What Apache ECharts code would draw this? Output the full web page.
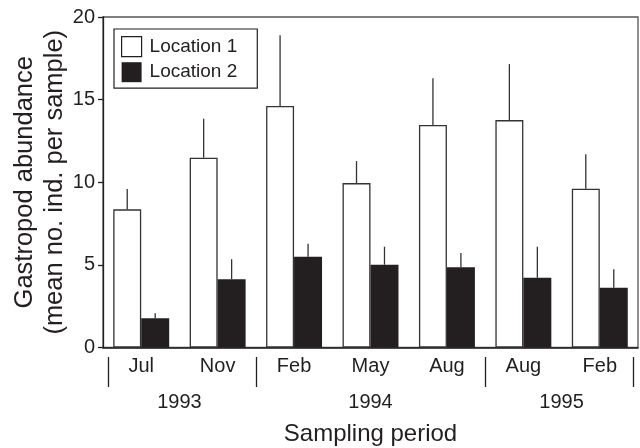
<!DOCTYPE html>
<html>
<head>
<meta charset="utf-8">
<script src="https://cdn.jsdelivr.net/npm/echarts@6/dist/echarts.min.js"></script>
<style>html,body{margin:0;padding:0;background:#fff}#c{width:640px;height:448px}</style>
</head>
<body>
<div id="c"></div>
<script>
// ---- data ----
const months = ['Jul', 'Nov', 'Feb', 'May', 'Aug', 'Aug', 'Feb'];
const years = ['1993', '1994', '1995'];
const yearSpans = [2, 3, 2]; // number of sampling dates in each year
const loc1Mean = [8.36, 11.48, 14.61, 9.95, 13.46, 13.76, 9.61];
const loc1SE   = [1.23, 2.36, 4.29, 1.33, 2.83, 3.39, 2.08];
const loc2Mean = [1.77, 4.13, 5.49, 5.01, 4.85, 4.22, 3.62];
const loc2SE   = [0.30, 1.21, 0.79, 1.09, 0.87, 1.88, 1.11];
const yTicks = [0, 5, 10, 15, 20];

// ---- derived year label positions / separators ----
const yearCenters = [], yearBounds = [0];
let acc = 0;
yearSpans.forEach(s => { yearCenters.push(acc + s / 2); acc += s; yearBounds.push(acc); });
const inset = 0.065;
const sepTicks = yearBounds.map((b, i) => i === 0 ? b + inset : (i === yearBounds.length - 1 ? b - inset : b));

const ink = '#231f20';
const FONT = 'Liberation Sans, Arial, Helvetica, sans-serif';
const BAR_FRAC = 0.366;

function errSeries(name, mean, se, sign) {
  return {
    type: 'custom', name: name + ' err', xAxisIndex: 0, yAxisIndex: 0, z: 1,
    silent: true,
    renderItem: function (params, api) {
      const c = api.coord([api.value(0), api.value(1)]);
      const t = api.coord([api.value(0), api.value(2)]);
      const bw = api.size([1, 0])[0];
      const dx = sign * bw * BAR_FRAC / 2;
      return { type: 'line', shape: { x1: c[0] + dx, y1: c[1], x2: c[0] + dx, y2: t[1] },
               style: { stroke: '#333', lineWidth: 1.3 } };
    },
    data: mean.map((m, i) => [i, m, m + se[i]])
  };
}

const chart = echarts.init(document.getElementById('c'), null, { renderer: 'canvas' });
chart.setOption({
  animation: false,
  textStyle: { fontFamily: FONT, color: ink },
  grid: { left: 103, right: 2, top: 17, bottom: 100.5, containLabel: false, outerBoundsMode: 'none',
          show: true, borderColor: '#555', borderWidth: 1.3 },
  legend: {
    orient: 'vertical', left: 114, top: 29,
    padding: [7, 20, 6, 7], itemGap: 5, itemWidth: 20, itemHeight: 20,
    borderColor: ink, borderWidth: 1.2,
    textStyle: { fontSize: 19, color: ink, fontFamily: FONT, padding: [0, 0, 0, 3] },
    data: [
      { name: 'Location 1', icon: 'rect', itemStyle: { color: '#fff', borderColor: ink, borderWidth: 1.2 } },
      { name: 'Location 2', icon: 'rect', itemStyle: { color: ink, borderWidth: 0 } }
    ]
  },
  xAxis: [
    {
      type: 'category', data: months, gridIndex: 0,
      axisLine: { lineStyle: { color: ink, width: 1.6 } },
      axisTick: { show: false },
      axisLabel: { fontSize: 20, color: ink, margin: 9, fontFamily: FONT, interval: 0 },
      name: 'Sampling period', nameLocation: 'middle', nameGap: 75, nameMoveOverlap: false,
      nameTextStyle: { fontSize: 24, color: ink, fontFamily: FONT }
    },
    {
      type: 'value', min: 0, max: months.length, gridIndex: 0, position: 'bottom', offset: 9.5,
      axisLine: { show: false },
      splitLine: { show: false },
      axisTick: { show: true, inside: false, length: 30, customValues: sepTicks,
                  lineStyle: { color: ink, width: 1.3 } },
      axisLabel: { show: true, customValues: yearCenters, margin: 35, fontSize: 20, color: ink, fontFamily: FONT,
                   formatter: function (v) { const k = yearCenters.indexOf(v); return k >= 0 ? years[k] : ''; } }
    }
  ],
  yAxis: {
    type: 'value', min: yTicks[0], max: yTicks[yTicks.length - 1], interval: 5,
    axisLine: { show: true, lineStyle: { color: ink, width: 1.3 } },
    axisTick: { show: true, inside: false, length: 5, lineStyle: { color: ink, width: 1.3 } },
    splitLine: { show: false },
    axisLabel: { fontSize: 20, color: ink, margin: 8, fontFamily: FONT },
    name: 'Gastropod abundance\n(mean no. ind. per sample)', nameLocation: 'middle', nameGap: 33, nameMoveOverlap: false,
    nameTextStyle: { fontSize: 25.5, color: ink, fontFamily: FONT, lineHeight: 30 }
  },
  series: [
    { type: 'bar', name: 'Location 1', data: loc1Mean, barWidth: (BAR_FRAC * 100) + '%', barGap: '0%', z: 2,
      itemStyle: { color: '#fff', borderColor: '#333', borderWidth: 1.3 } },
    { type: 'bar', name: 'Location 2', data: loc2Mean, barWidth: (BAR_FRAC * 100) + '%', barGap: '0%', z: 2,
      itemStyle: { color: ink, borderWidth: 0 } },
    errSeries('Location 1', loc1Mean, loc1SE, -1),
    errSeries('Location 2', loc2Mean, loc2SE, 1)
  ]
});
</script>
</body>
</html>
